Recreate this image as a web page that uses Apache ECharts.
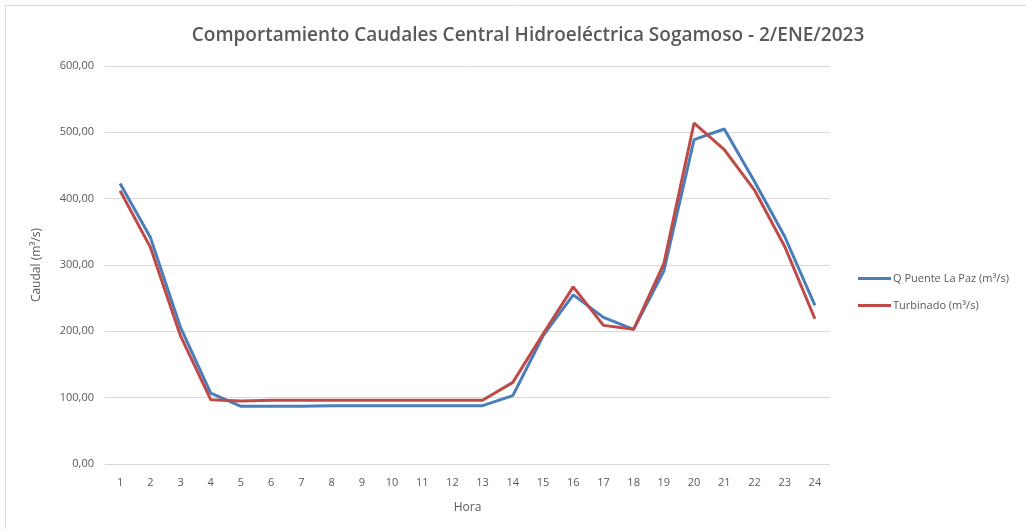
<!DOCTYPE html>
<html><head><meta charset="utf-8">
<script src="https://cdn.jsdelivr.net/npm/echarts@6/dist/echarts.min.js"></script>
<style>html,body{margin:0;padding:0;background:#fff}#c{width:1026px;height:529px}</style>
</head><body><div id="c"></div>
<script>
const horas = ['1','2','3','4','5','6','7','8','9','10','11','12','13','14','15','16','17','18','19','20','21','22','23','24'];
const qPuenteLaPaz = [423, 342, 206, 107, 87, 87, 87, 88, 88, 88, 88, 88, 88, 103, 193, 255, 221, 203, 291, 489, 505, 426, 343, 239];
const turbinado = [412, 327, 193, 97, 95, 96, 96, 96, 96, 96, 96, 96, 96, 123, 196, 267, 209, 203, 302, 514, 474, 413, 328, 219];
const yTicks = [0, 100, 200, 300, 400, 500, 600];

const font = 'Open Sans';
const chart = echarts.init(document.getElementById('c'));
chart.setOption({
  animation: false,
  backgroundColor: '#fff',
  title: {
    text: 'Comportamiento Caudales Central Hidroeléctrica Sogamoso - 2/ENE/2023',
    left: 523, top: 21, textAlign: 'center',
    textStyle: {fontFamily: font, fontSize: 19, fontWeight: 600, color: '#595959'}
  },
  legend: {
    orient: 'vertical', left: 853, top: 268, itemGap: 16,
    itemWidth: 33, itemHeight: 3, icon: 'rect',
    textStyle: {fontFamily: font, fontSize: 11, color: '#595959', padding: [0, 0, 0, -3]},
    data: ['Q Puente La Paz (m³/s)', 'Turbinado (m³/s)']
  },
  grid: {left: 105, right: 196, top: 66, bottom: 65, containLabel: false},
  xAxis: {
    type: 'category', data: horas, boundaryGap: true,
    name: 'Hora', nameLocation: 'middle', nameGap: 38,
    nameTextStyle: {fontFamily: font, fontSize: 12, color: '#595959'},
    axisLine: {show: false}, axisTick: {show: false},
    axisLabel: {fontFamily: font, fontSize: 11, color: '#595959', margin: 13}
  },
  yAxis: {
    type: 'value', min: 0, max: 600, interval: 100,
    name: 'Caudal (m³/s)', nameLocation: 'middle', nameGap: 62, nameRotate: 90,
    nameTextStyle: {fontFamily: font, fontSize: 12, color: '#595959'},
    axisLine: {show: false}, axisTick: {show: false},
    splitLine: {lineStyle: {color: '#d9d9d9', width: 1}},
    axisLabel: {fontFamily: font, fontSize: 11, color: '#595959', margin: 11,
      formatter: v => yTicks.includes(v) ? v.toFixed(2).replace('.', ',') : ''}
  },
  series: [
    {name: 'Q Puente La Paz (m³/s)', type: 'line', data: qPuenteLaPaz, symbol: 'none',
     lineStyle: {color: '#4A7EBB', width: 3}, itemStyle: {color: '#4A7EBB'}},
    {name: 'Turbinado (m³/s)', type: 'line', data: turbinado, symbol: 'none',
     lineStyle: {color: '#BE4B48', width: 3}, itemStyle: {color: '#BE4B48'}}
  ],
  graphic: [{type: 'rect', shape: {x: 5.5, y: 5.5, width: 1030, height: 530},
    style: {fill: 'none', stroke: '#d9d9d9', lineWidth: 1}, silent: true}]
});
</script></body></html>
